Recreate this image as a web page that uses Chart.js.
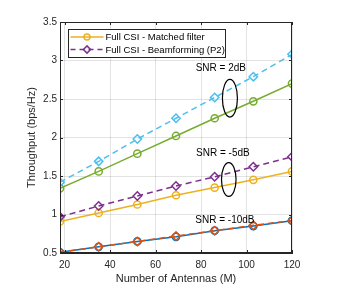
<!DOCTYPE html>
<html>
<head>
<meta charset="utf-8">
<script src="https://cdn.jsdelivr.net/npm/chart.js@4/dist/chart.umd.min.js"></script>
<style>
  body { margin: 0; background: #fff; }
</style>
</head>
<body>
<canvas id="c" width="341" height="286"></canvas>
<script>
// number of antennas M
const antennas = [18, 35, 52, 69, 86, 103, 120]
const xTicks = [20, 40, 60, 80, 100, 120]
const yTicks = [0.5, 1, 1.5, 2, 2.5, 3, 3.5]

// throughput (bps/Hz)
const mf2dB = [1.34, 1.56, 1.79, 2.02, 2.25, 2.47, 2.70]
const bf2dB = [1.42, 1.69, 1.98, 2.25, 2.52, 2.79, 3.08]
const mfMinus5dB = [0.91, 1.02, 1.13, 1.25, 1.35, 1.45, 1.56]
const bfMinus5dB = [0.97, 1.11, 1.24, 1.37, 1.49, 1.62, 1.75]
const mfMinus10dB = [0.51, 0.58, 0.65, 0.71, 0.79, 0.85, 0.92]
const bfMinus10dB = [0.51, 0.58, 0.65, 0.72, 0.79, 0.86, 0.92]

const legendLabels = ['Full CSI - Matched filter', 'Full CSI - Beamforming (P2)']

// annotation text + ellipses, in data coordinates
const snrLabels = [
  { text: 'SNR = 2dB', x: 88.7, y: 2.90 },
  { text: 'SNR = -5dB', x: 89.6, y: 1.79 },
  { text: 'SNR = -10dB', x: 90.5, y: 0.92 }
]
const snrEllipses = [
  { x: 92.7, y: 2.51, rx: 3.3, ry: 0.245 },
  { x: 92.2, y: 1.455, rx: 3.2, ry: 0.22 }
]

const FONT = '"Liberation Sans", Arial, Helvetica, sans-serif'
const AXIS = '#262626'

const colors = {
  green: '#77AC30',
  cyan: '#4DBEEE',
  yellow: '#EDB120',
  purple: '#7E2F8E',
  blue: '#0072BD',
  red: '#D95319'
}

function pts(ys) {
  return antennas.map((x, i) => ({ x: x, y: ys[i] }))
}

function solid(label, ys, color) {
  return {
    label: label,
    data: pts(ys),
    borderColor: color,
    backgroundColor: '#fff',
    borderWidth: 1.5,
    pointStyle: 'circle',
    pointRadius: 3.6,
    pointBorderWidth: 1.5,
    pointBorderColor: color,
    pointBackgroundColor: 'rgba(255,255,255,0)',
    tension: 0
  }
}
function dashed(label, ys, color) {
  return {
    label: label,
    data: pts(ys),
    borderColor: color,
    backgroundColor: '#fff',
    borderWidth: 1.5,
    borderDash: [6, 4],
    pointStyle: 'rectRot',
    pointRadius: 4.2,
    pointBorderWidth: 1.5,
    pointBorderColor: color,
    pointBackgroundColor: 'rgba(255,255,255,0)',
    tension: 0
  }
}

// first dataset is drawn on top in Chart.js
const datasets = [
  dashed('bf-10', bfMinus10dB, colors.red),
  solid('mf-10', mfMinus10dB, colors.blue),
  dashed(legendLabels[1], bfMinus5dB, colors.purple),
  solid(legendLabels[0], mfMinus5dB, colors.yellow),
  dashed('bf2', bf2dB, colors.cyan),
  solid('mf2', mf2dB, colors.green)
]

const framePlugin = {
  id: 'frame',
  afterDatasetsDraw(chart) {
    const ctx = chart.ctx
    const a = chart.chartArea
    const xs = chart.scales.x
    const ys = chart.scales.y
    ctx.save()
    ctx.strokeStyle = AXIS
    ctx.lineWidth = 1
    ctx.strokeRect(Math.round(a.left) + 0.5, Math.round(a.top) + 0.5,
      Math.round(a.right - a.left) - 1, Math.round(a.bottom - a.top) - 1)
    // inward ticks like matlab
    ctx.beginPath()
    xTicks.forEach(v => {
      const px = Math.round(xs.getPixelForValue(v)) + 0.5
      ctx.moveTo(px, a.bottom); ctx.lineTo(px, a.bottom - 3)
      ctx.moveTo(px, a.top); ctx.lineTo(px, a.top + 3)
    })
    yTicks.forEach(v => {
      const py = Math.round(ys.getPixelForValue(v)) + 0.5
      ctx.moveTo(a.left, py); ctx.lineTo(a.left + 3, py)
      ctx.moveTo(a.right, py); ctx.lineTo(a.right - 3, py)
    })
    ctx.stroke()

    // snr annotations
    ctx.fillStyle = '#000'
    ctx.font = '10px ' + FONT
    ctx.textAlign = 'center'
    ctx.textBaseline = 'middle'
    snrLabels.forEach(l => {
      ctx.fillText(l.text, xs.getPixelForValue(l.x), ys.getPixelForValue(l.y))
    })
    ctx.strokeStyle = '#000'
    ctx.lineWidth = 1.2
    snrEllipses.forEach(e => {
      const cx = xs.getPixelForValue(e.x)
      const cy = ys.getPixelForValue(e.y)
      const rx = xs.getPixelForValue(e.x + e.rx) - cx
      const ry = cy - ys.getPixelForValue(e.y + e.ry)
      ctx.beginPath()
      ctx.ellipse(cx, cy, rx, ry, 0, 0, Math.PI * 2)
      ctx.stroke()
    })

    // legend box
    const lx = Math.round(a.left) + 8.5
    const ly = Math.round(a.top) + 7.5
    ctx.fillStyle = '#fff'
    ctx.fillRect(lx, ly, 157, 28)
    ctx.strokeStyle = AXIS
    ctx.lineWidth = 1
    ctx.strokeRect(lx, ly, 157, 28)
    const entries = [datasets[3], datasets[2]]
    entries.forEach((ds, i) => {
      const yy = ly + 7.5 + i * 12.5
      ctx.strokeStyle = ds.borderColor
      ctx.lineWidth = 1.5
      ctx.setLineDash(ds.borderDash ? [5, 4] : [])
      ctx.beginPath()
      ctx.moveTo(lx + 2, yy); ctx.lineTo(lx + 35, yy)
      ctx.stroke()
      ctx.setLineDash([])
      ctx.fillStyle = 'rgba(255,255,255,0)'
      Chart.helpers.drawPoint(ctx, {
        pointStyle: ds.pointStyle, radius: ds.pointRadius - 0.6, borderWidth: 1.5, rotation: 0
      }, lx + 18.5, yy)
      ctx.fillStyle = '#000'
      ctx.font = '9.5px ' + FONT
      ctx.textAlign = 'left'
      ctx.fillText(ds.label, lx + 37, yy + 0.5)
    })
    ctx.restore()
  }
}

new Chart(document.getElementById('c').getContext('2d'), {
  type: 'line',
  data: { datasets: datasets },
  plugins: [framePlugin],
  options: {
    responsive: false,
    animation: false,
    devicePixelRatio: 1,
    layout: { padding: { left: 0, top: 22, right: 49, bottom: 0 } },
    plugins: {
      legend: { display: false },
      tooltip: { enabled: false }
    },
    scales: {
      x: {
        type: 'linear',
        min: 18,
        max: 120,
        afterBuildTicks: s => { s.ticks = xTicks.map(v => ({ value: v })) },
        afterFit: s => { s.height = 33 },
        grid: { color: 'rgba(38,38,38,0.13)', drawTicks: false },
        border: { color: AXIS },
        ticks: { color: AXIS, padding: 6, maxRotation: 0, font: { family: FONT, size: 10 } },
        title: {
          display: true,
          text: 'Number of Antennas (M)',
          color: AXIS,
          padding: { top: 0, bottom: 0 },
          font: { family: FONT, size: 11 }
        }
      },
      y: {
        min: 0.5,
        max: 3.5,
        afterBuildTicks: s => { s.ticks = yTicks.map(v => ({ value: v })) },
        afterFit: s => { s.width = 60 },
        grid: { color: 'rgba(38,38,38,0.13)', drawTicks: false },
        border: { color: AXIS },
        ticks: { color: AXIS, padding: 3, font: { family: FONT, size: 10 }, callback: v => String(v) },
        title: {
          display: true,
          text: 'Throughput (bps/Hz)',
          color: AXIS,
          padding: { top: 25, bottom: 0 },
          font: { family: FONT, size: 11 }
        }
      }
    }
  }
})
</script>
</body>
</html>
